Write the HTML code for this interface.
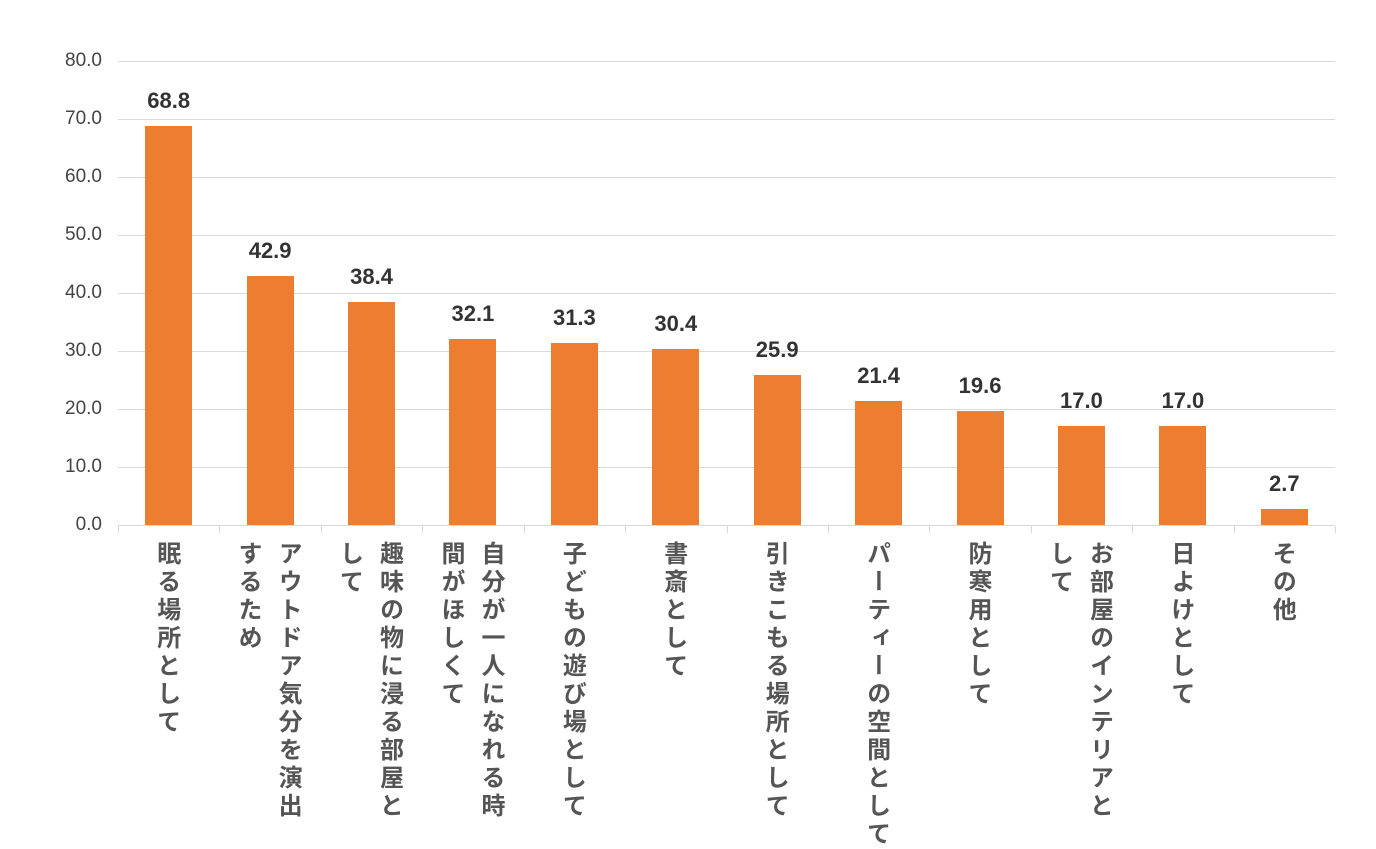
<!DOCTYPE html>
<html><head><meta charset="utf-8"><style>
body{margin:0;width:1376px;height:841px;background:#fff;position:relative;overflow:hidden;font-family:"Liberation Sans","Noto Sans CJK JP",sans-serif}
.g{position:absolute;left:118px;width:1217px;height:1px;background:#d9d9d9}
.yl{position:absolute;left:30px;width:72px;text-align:right;font-size:19px;color:#444}
.bar{position:absolute;width:47px;background:#ed7d31}
.v{position:absolute;width:100px;text-align:center;font-size:22px;color:#333;font-weight:bold}
.c{position:absolute;top:541px;writing-mode:vertical-rl;font-family:"Noto Sans CJK JP",sans-serif;font-weight:bold;font-size:24px;letter-spacing:4px;line-height:40px;color:#555;white-space:nowrap}
.t{position:absolute;top:526px;width:1px;height:7px;background:#d9d9d9}
</style></head><body>
<div id="root"></div>
<script>
var vals=[68.8,42.9,38.4,32.1,31.3,30.4,25.9,21.4,19.6,17.0,17.0,2.7];
var labs=["眠る場所として","アウトドア気分を演出<br>するため","趣味の物に浸る部屋と<br>して","自分が一人になれる時<br>間がほしくて","子どもの遊び場として","書斎として","引きこもる場所として","パーティーの空間として","防寒用として","お部屋のインテリアと<br>して","日よけとして","その他"];
var h="";
for(var i=0;i<=8;i++){var y=525-58*i;h+='<div class="g" style="top:'+y+'px"></div><div class="yl" style="top:'+(y-11)+'px">'+(i*10).toFixed(1)+'</div>';}
var w=1217/12;
for(var i=0;i<=12;i++){h+='<div class="t" style="left:'+Math.round(118+w*i)+'px"></div>';}
for(var i=0;i<12;i++){var cx=118+w*(i+0.5);var bh=vals[i]*5.8;
h+='<div class="bar" style="left:'+(cx-23.5)+'px;top:'+(525-bh)+'px;height:'+bh+'px"></div>';
h+='<div class="v" style="left:'+(cx-50)+'px;top:'+(525-bh-38)+'px">'+vals[i].toFixed(1)+'</div>';
var two=labs[i].indexOf('<br>')>=0;
h+='<div class="c" style="left:'+(cx-(two?40:20))+'px">'+labs[i]+'</div>';}
document.getElementById('root').innerHTML=h;
</script>
</body></html>
